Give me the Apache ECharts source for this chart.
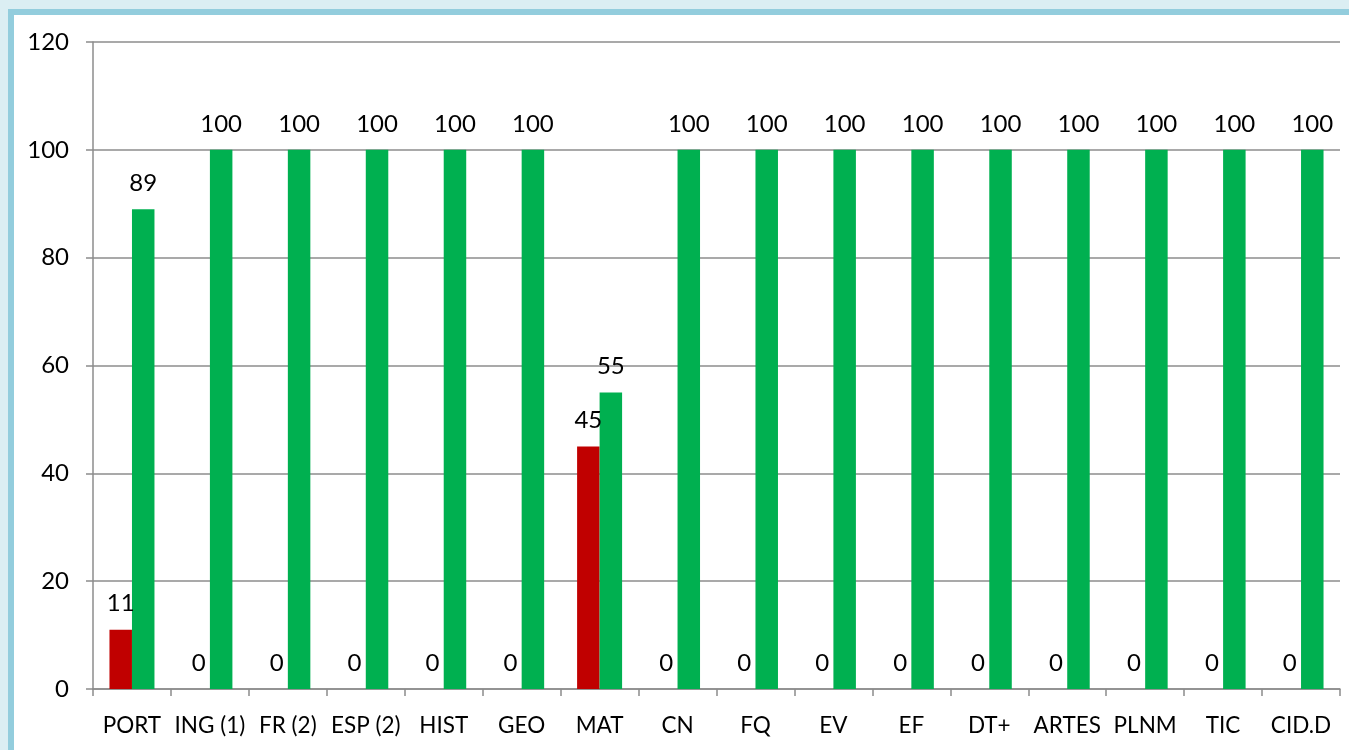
<!DOCTYPE html>
<html>
<head>
<meta charset="utf-8">
<script src="https://cdn.jsdelivr.net/npm/echarts@6/dist/echarts.min.js"></script>
<style>
  html, body { margin: 0; padding: 0; width: 1349px; height: 750px; overflow: hidden; background: #dbeef3; }
  #frame { position: absolute; left: 8px; top: 9px; width: 1400px; height: 800px;
           border-left: 6px solid #93cddd; border-top: 6px solid #93cddd; background: #ffffff; }
  #chart { position: absolute; left: 0; top: 0; width: 1349px; height: 750px; }
</style>
</head>
<body>
<div id="frame"></div>
<div id="chart"></div>
<script>
// Subjects on the category axis
const subjects = ['PORT', 'ING (1)', 'FR (2)', 'ESP (2)', 'HIST', 'GEO', 'MAT', 'CN', 'FQ', 'EV', 'EF', 'DT+', 'ARTES', 'PLNM', 'TIC', 'CID.D'];
// Percentages per subject
const redValues   = [11, 0, 0, 0, 0, 0, 45, 0, 0, 0, 0, 0, 0, 0, 0, 0];
const greenValues = [89, 100, 100, 100, 100, 100, 55, 100, 100, 100, 100, 100, 100, 100, 100, 100];
// Value axis range
const yMin = 0, yMax = 120, yStep = 20;

const FONT = 'Lato';
const gridColor = '#8c8c8c';

const labelStyle = {
  show: true,
  position: 'top',
  distance: 14,
  color: '#000',
  fontFamily: FONT,
  fontSize: 24
};

const chart = echarts.init(document.getElementById('chart'), null, { renderer: 'canvas' });
chart.setOption({
  animation: false,
  backgroundColor: 'transparent',
  grid: { left: 93, right: 9, top: 42, bottom: 61, containLabel: false },
  xAxis: {
    type: 'category',
    data: subjects,
    axisLine: { lineStyle: { color: gridColor, width: 1.5 } },
    axisTick: { show: true, length: 7, lineStyle: { color: gridColor, width: 1.5 } },
    axisLabel: { color: '#000', fontFamily: FONT, fontSize: 22.5, margin: 25, interval: 0 }
  },
  yAxis: {
    type: 'value',
    min: yMin, max: yMax, interval: yStep,
    axisLine: { show: true, lineStyle: { color: gridColor, width: 1.5 } },
    axisTick: { show: true, length: 7, lineStyle: { color: gridColor, width: 1.5 } },
    axisLabel: { color: '#000', fontFamily: FONT, fontSize: 24, margin: 24 },
    splitLine: { show: true, lineStyle: { color: gridColor, width: 1.5 } }
  },
  series: [
    {
      name: 'Vermelho',
      type: 'bar',
      data: redValues,
      barWidth: 22.5,
      barGap: '0%',
      itemStyle: { color: '#c00000' },
      label: labelStyle
    },
    {
      name: 'Verde',
      type: 'bar',
      data: greenValues,
      barWidth: 22.5,
      barGap: '0%',
      itemStyle: { color: '#00b050' },
      label: labelStyle
    }
  ]
});
</script>
</body>
</html>
